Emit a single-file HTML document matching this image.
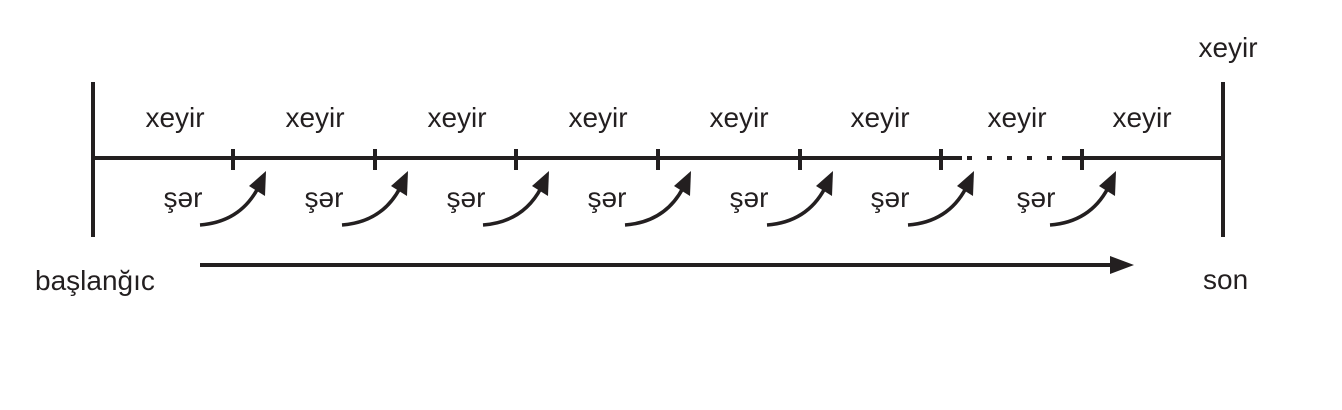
<!DOCTYPE html>
<html><head><meta charset="utf-8"><style>body{margin:0;background:#fff}svg{display:block}text{font-family:"Liberation Sans",sans-serif;font-size:28px;fill:#231f20}</style></head><body>
<svg width="1342" height="410" viewBox="0 0 1342 410">
<g stroke="#231f20" stroke-width="4" fill="none">
<line x1="93" y1="82" x2="93" y2="237"/>
<line x1="1223" y1="82" x2="1223" y2="237"/>
<line x1="93" y1="158" x2="962" y2="158"/>
<line x1="1062" y1="158" x2="1223" y2="158"/>
<line x1="967" y1="158" x2="1052" y2="158" stroke-dasharray="5 15"/>
<g><line x1="233" y1="149" x2="233" y2="170"/><line x1="375" y1="149" x2="375" y2="170"/><line x1="516" y1="149" x2="516" y2="170"/><line x1="658" y1="149" x2="658" y2="170"/><line x1="800" y1="149" x2="800" y2="170"/><line x1="941" y1="149" x2="941" y2="170"/><line x1="1082" y1="149" x2="1082" y2="170"/></g>
<line x1="200" y1="265" x2="1112" y2="265"/>
</g>
<path d="M1110,256L1134,265L1110,274z" fill="#231f20"/>
<g stroke="#231f20" stroke-width="3.5" fill="none">
<path d="M200,225 Q240,222 258,188"/><path d="M342,225 Q382,222 400,188"/><path d="M483,225 Q523,222 541,188"/><path d="M625,225 Q665,222 683,188"/><path d="M767,225 Q807,222 825,188"/><path d="M908,225 Q948,222 966,188"/><path d="M1050,225 Q1090,222 1108,188"/>
</g>
<g fill="#231f20">
<path d="M266,171L265,196L249,186z"/><path d="M408,171L407,196L391,186z"/><path d="M549,171L548,196L532,186z"/><path d="M691,171L690,196L674,186z"/><path d="M833,171L832,196L816,186z"/><path d="M974,171L973,196L957,186z"/><path d="M1116,171L1115,196L1099,186z"/>
</g>
<g text-anchor="middle">
<text x="175" y="127">xeyir</text><text x="315" y="127">xeyir</text><text x="457" y="127">xeyir</text><text x="598" y="127">xeyir</text><text x="739" y="127">xeyir</text><text x="880" y="127">xeyir</text><text x="1017" y="127">xeyir</text><text x="1142" y="127">xeyir</text>
<text x="1228" y="57">xeyir</text>
<text x="183" y="207">şər</text><text x="324" y="207">şər</text><text x="466" y="207">şər</text><text x="607" y="207">şər</text><text x="749" y="207">şər</text><text x="890" y="207">şər</text><text x="1036" y="207">şər</text>
</g>
<text x="35" y="290">başlanğıc</text>
<text x="1203" y="289">son</text>
</svg>
</body></html>
